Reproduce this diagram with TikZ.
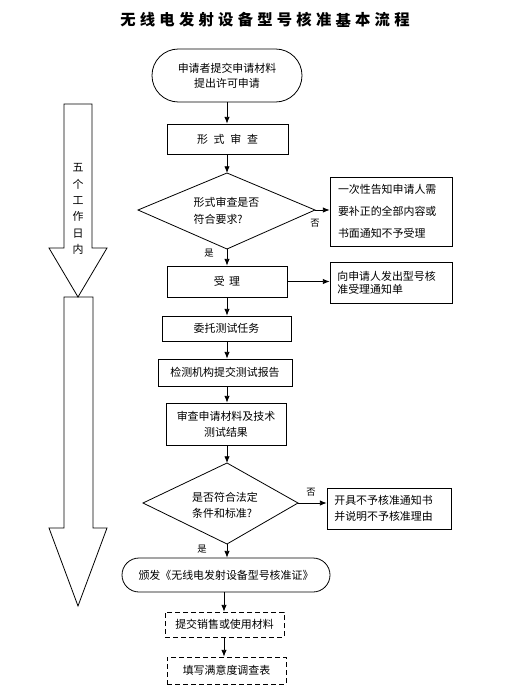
\documentclass[tikz,border=0pt]{standalone}
\usepackage{fontspec}
\setmainfont{Noto Sans CJK SC}
\usetikzlibrary{arrows.meta,calc}
\tikzset{
  ln/.style={line width=0.6pt},
  arr/.style={ln,-{Latex[length=5pt,width=4pt]}},
  box/.style={draw,ln,inner sep=0pt,font=\fontsize{8.2}{12}\selectfont},
  sidebox/.style={box,align=left,anchor=center},
  dbox/.style={box,dashed,dash pattern=on 3.5pt off 2.5pt},
  lbl/.style={inner sep=0pt,font=\fontsize{7}{8}\selectfont},
  plain/.style={inner sep=0pt,font=\fontsize{8.2}{12}\selectfont},
  titlech/.style={inner sep=0pt,font=\fontsize{11.5}{12}\selectfont\bfseries},
}
\begin{document}
\begin{tikzpicture}[x=0.75pt,y=-0.75pt]
\useasboundingbox[fill=white] (0,0) rectangle (508,696);
% title
\foreach \c [count=\i from 0] in {无,线,电,发,射,设,备,型,号,核,准,基,本,流,程}
  \node[titlech] (t\i) at (128+19.57*\i,20) {\c};
\coordinate (ax) at (227,0);
\coordinate (ax2) at (224,0);
% left big arrows
\draw[ln] (64,104) -- (92,104) -- (92,248) -- (107,248) -- (78,297) -- (49,248) -- (64,248) -- cycle;
\node[plain,align=center,font=\fontsize{8.2}{12.3}\selectfont] (five) at (78,209) {五\\个\\工\\作\\日\\内};
\draw[ln] (64,297) -- (93,297) -- (93,528) -- (107,528) -- (78,606) -- (49,528) -- (64,528) -- cycle;
% start
\node[box,rounded corners=19.8pt,minimum width=112.5pt,minimum height=39.75pt,align=center,font=\fontsize{8.2}{11.3}\selectfont] (start) at (227,75.5) {申请者提交申请材料\\提出许可申请};
% formal review
\node[box,minimum width=90.75pt,minimum height=22.5pt] (fs) at (227.5,139) {形\hspace{4.3pt}式\hspace{4.3pt}审\hspace{4.3pt}查};
% diamond 1
\coordinate (d1t) at (227,173);
\coordinate (d1l) at (138,210);
\coordinate (d1r) at (315,210);
\coordinate (d1b) at (227,249);
\draw[ln] (d1t) -- (d1r) -- (d1b) -- (d1l) -- cycle;
\node[plain,align=left,font=\fontsize{8.2}{12.5}\selectfont] (d1txt) at (226.5,211) {形式审查是否\\符合要求?};
% right box 1
\node[sidebox,minimum width=91.5pt,minimum height=51.75pt,text width=79.5pt,font=\fontsize{8.2}{16.3}\selectfont] (rb1) at (391,211.5) {一次性告知申请人需\\要补正的全部内容或\\书面通知不予受理};
% accept
\node[box,minimum width=90pt,minimum height=23.25pt] (sl) at (227,281.5) {受\hspace{3.3pt}理};
\node[sidebox,minimum width=91.5pt,minimum height=30.75pt,text width=80.5pt,font=\fontsize{8.2}{10}\selectfont] (rb2) at (391,282.5) {向申请人发出型号核\\准受理通知单};
% next boxes
\node[box,minimum width=96.75pt,minimum height=18.75pt] (wt) at (226.5,328.5) {委托测试任务};
\node[box,minimum width=100.5pt,minimum height=20.25pt] (jc) at (225,372.5) {检测机构提交测试报告};
\node[box,minimum width=90pt,minimum height=31.5pt,align=center] (sc) at (226,424) {审查申请材料及技术\\测试结果};
% diamond 2
\coordinate (d2t) at (227,463);
\coordinate (d2l) at (143,503);
\coordinate (d2r) at (298,503);
\coordinate (d2b) at (227,544);
\draw[ln] (d2t) -- (d2r) -- (d2b) -- (d2l) -- cycle;
\node[plain,align=left,font=\fontsize{8.2}{11.8}\selectfont] (d2txt) at (225,505) {是否符合法定\\条件和标准?};
\node[sidebox,minimum width=93pt,minimum height=30.75pt,text width=82pt,font=\fontsize{8.2}{12}\selectfont] (rb3) at (389,508.5) {开具不予核准通知书\\并说明不予核准理由};
% terminal 2
\node[box,rounded corners=12.75pt,minimum width=156pt,minimum height=25.5pt] (bf) at (226,575) {颁发《无线电发射设备型号核准证》};
% dashed boxes
\node[dbox,minimum width=89.25pt,minimum height=18.75pt] (xs) at (224.5,624.5) {提交销售或使用材料};
\node[dbox,minimum width=89.25pt,minimum height=20.25pt] (my) at (226.5,670.5) {填写满意度调查表};
% labels
\node[lbl] (no1) at (315,223) {否};
\node[lbl] (yes1) at (209,253) {是};
\node[lbl] (no2) at (311,492) {否};
\node[lbl] (yes2) at (202,549) {是};
% connectors
\draw[arr] (start.south -| ax) -- (fs.north -| ax);
\draw[arr] (fs.south -| ax) -- (d1t);
\draw[arr] (d1r) -- (d1r -| rb1.west);
\draw[arr] (d1b) -- (d1b |- sl.north);
\draw[arr] (sl.east) -- (sl.east -| rb2.west);
\draw[arr] (sl.south -| ax) -- (wt.north -| ax);
\draw[arr] (wt.south -| ax) -- (jc.north -| ax);
\draw[arr] (jc.south -| ax) -- (sc.north -| ax);
\draw[arr] (sc.south -| ax) -- (d2t);
\draw[arr] (d2r) -- (d2r -| rb3.west);
\draw[arr] (d2b) -- (bf.north -| ax);
\draw[arr] (bf.south -| ax2) -- (xs.north -| ax2);
\draw[arr] (xs.south -| ax2) -- (my.north -| ax2);
\end{tikzpicture}
\end{document}
